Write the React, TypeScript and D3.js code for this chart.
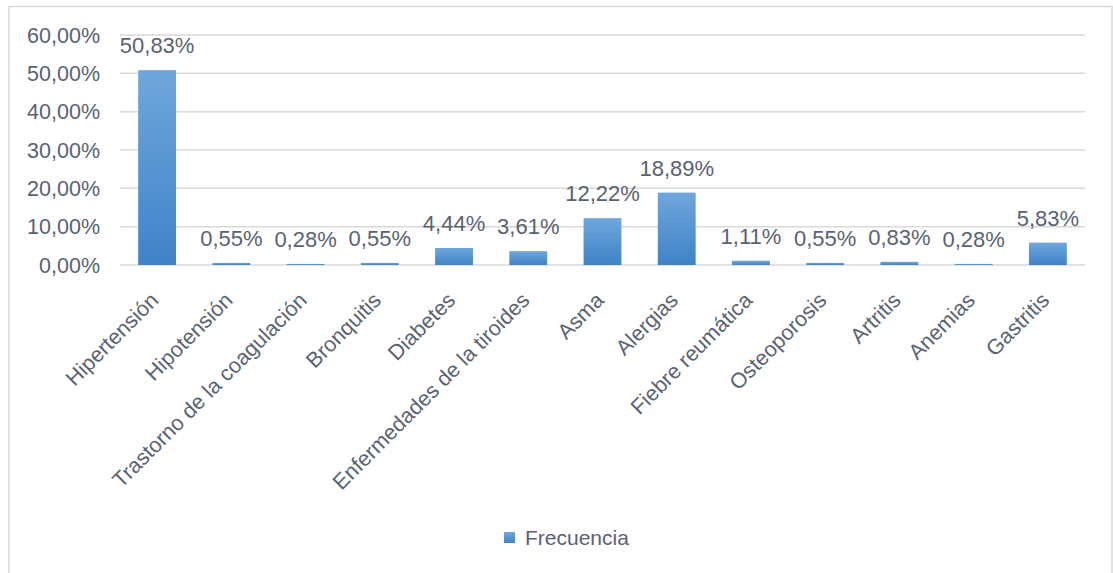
import React, { useEffect, useRef } from 'react'
import * as d3 from 'd3'

const categories = [
  'Hipertensión',
  'Hipotensión',
  'Trastorno de la coagulación',
  'Bronquitis',
  'Diabetes',
  'Enfermedades de la tiroides',
  'Asma',
  'Alergias',
  'Fiebre reumática',
  'Osteoporosis',
  'Artritis',
  'Anemias',
  'Gastritis'
]
const frecuencia = [50.83, 0.55, 0.28, 0.55, 4.44, 3.61, 12.22, 18.89, 1.11, 0.55, 0.83, 0.28, 5.83]
const yTicks = [0, 10, 20, 30, 40, 50, 60]
const seriesName = 'Frecuencia'

const W = 1113
const H = 573
const FONT = '"Liberation Sans", Arial, sans-serif'
const TEXT = '#596273'
const GRID = '#d9d9d9'

const fmt = (v: number) => v.toFixed(2).replace('.', ',') + '%'

export default function App() {
  const svgRef = useRef<SVGSVGElement>(null)

  useEffect(() => {
    if (!svgRef.current) return
    const svg = d3.select(svgRef.current)
    svg.selectAll('*').remove()

    // chart area frame
    svg.append('rect')
      .attr('x', 9)
      .attr('y', 6.5)
      .attr('width', 1103)
      .attr('height', 580)
      .attr('fill', '#fff')
      .attr('stroke', GRID)
      .attr('stroke-width', 1.5)

    const defs = svg.append('defs')
    const grad = defs.append('linearGradient')
      .attr('id', 'barGrad')
      .attr('x1', '0').attr('x2', '0')
      .attr('y1', '0').attr('y2', '1')
    grad.append('stop').attr('offset', '0%').attr('stop-color', '#70a6dc')
    grad.append('stop').attr('offset', '100%').attr('stop-color', '#3f83c7')

    const x = d3.scaleBand<string>()
      .domain(categories)
      .range([120, 1085])
      .paddingInner(0.49)
      .paddingOuter(0.245)

    const y = d3.scaleLinear()
      .domain([0, 60])
      .range([265, 35])

    // gridlines
    svg.append('g')
      .selectAll('line')
      .data(yTicks)
      .join('line')
      .attr('x1', 120)
      .attr('x2', 1085)
      .attr('y1', d => y(d))
      .attr('y2', d => y(d))
      .attr('stroke', GRID)
      .attr('stroke-width', 1.5)

    // y tick labels
    svg.append('g')
      .selectAll('text')
      .data(yTicks)
      .join('text')
      .attr('x', 100)
      .attr('y', d => y(d))
      .attr('dy', '0.35em')
      .attr('text-anchor', 'end')
      .attr('font-family', FONT)
      .attr('font-size', 21.5)
      .attr('fill', TEXT)
      .text(d => fmt(d))

    // bars
    svg.append('g')
      .selectAll('rect')
      .data(frecuencia)
      .join('rect')
      .attr('x', (d, i) => x(categories[i])!)
      .attr('width', x.bandwidth())
      .attr('y', d => y(d))
      .attr('height', d => y(0) - y(d))
      .attr('fill', 'url(#barGrad)')

    // data labels
    svg.append('g')
      .selectAll('text')
      .data(frecuencia)
      .join('text')
      .attr('x', (d, i) => x(categories[i])! + x.bandwidth() / 2)
      .attr('y', d => y(d) - 17)
      .attr('text-anchor', 'middle')
      .attr('font-family', FONT)
      .attr('font-size', 22)
      .attr('fill', TEXT)
      .text(d => fmt(d))

    // category labels, rotated
    svg.append('g')
      .selectAll('text')
      .data(categories)
      .join('text')
      .attr('transform', d => `translate(${x(d)! + x.bandwidth() / 2 - 8},${291}) rotate(-45)`)
      .attr('dy', '0.7em')
      .attr('text-anchor', 'end')
      .attr('font-family', FONT)
      .attr('font-size', 21.5)
      .attr('fill', TEXT)
      .text(d => d)

    // legend
    const lg = svg.append('g').attr('transform', 'translate(504,532)')
    lg.append('rect')
      .attr('width', 11)
      .attr('height', 11)
      .attr('fill', 'url(#barGrad)')
    lg.append('text')
      .attr('x', 21)
      .attr('y', 5.5)
      .attr('dy', '0.35em')
      .attr('font-family', FONT)
      .attr('font-size', 21)
      .attr('fill', TEXT)
      .text(seriesName)
  }, [])

  return (
    <svg
      ref={svgRef}
      width={W}
      height={H}
      style={{ position: 'absolute', left: 0, top: 0, background: '#fff', display: 'block' }}
    />
  )
}
